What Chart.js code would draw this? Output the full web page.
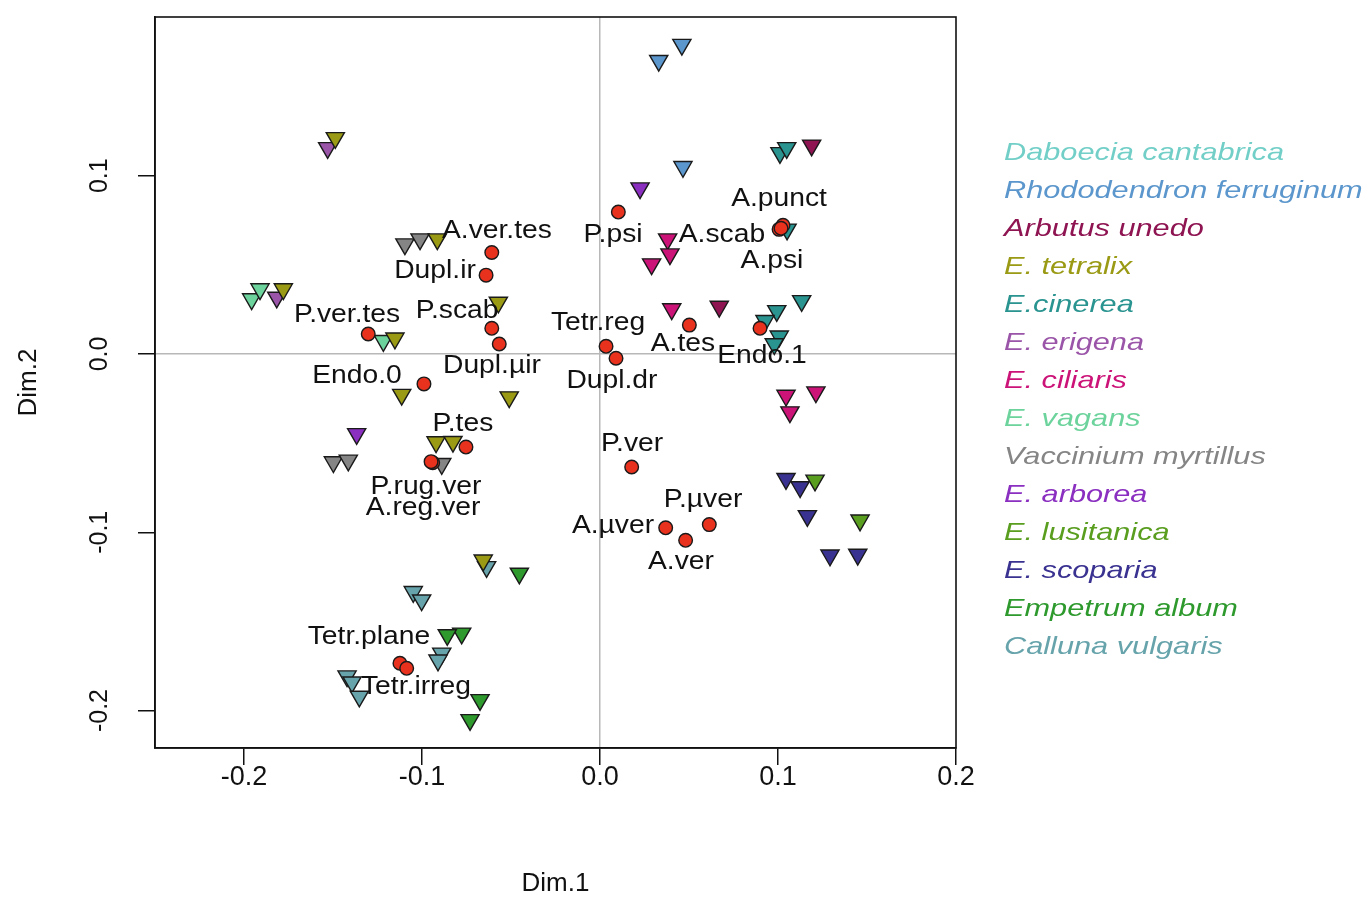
<!DOCTYPE html>
<html>
<head>
<meta charset="utf-8">
<script src="https://cdn.jsdelivr.net/npm/chart.js@4.4.1/dist/chart.umd.min.js"></script>
<style>
html,body{margin:0;padding:0;background:#fff;}
#wrap{width:1368px;height:899px;}
</style>
</head>
<body>
<div id="wrap"><canvas id="c" width="1368" height="899"></canvas></div>
<script>
// ---------- DATA ----------
const xTickValues = [-0.2, -0.1, 0.0, 0.1, 0.2];
const yTickValues = [-0.2, -0.1, 0.0, 0.1];

const speciesNames = ["Daboecia cantabrica","Rhododendron ferruginum","Arbutus unedo","E. tetralix","E.cinerea","E. erigena","E. ciliaris","E. vagans","Vaccinium myrtillus","E. arborea","E. lusitanica","E. scoparia","Empetrum album","Calluna vulgaris"];

const daboeciaX = [];
const daboeciaY = [];
const rhodoX = [0.046, 0.033, 0.0466];
const rhodoY = [0.1735, 0.1645, 0.105];
const arbutusX = [0.1189, 0.067];
const arbutusY = [0.117, 0.0266];
const tetralixX = [-0.1487, -0.0914, -0.1779, -0.1152, -0.1114, -0.0921, -0.0826, -0.0510, -0.0571, -0.0656];
const tetralixY = [0.1212, 0.0644, 0.0364, 0.0088, -0.0228, -0.0494, -0.0492, -0.0242, 0.0289, -0.1157];
const cinereaX = [0.1011, 0.1049, 0.1051, 0.1133, 0.0993, 0.0927, 0.1007, 0.0979];
const cinereaY = [0.1128, 0.1156, 0.0699, 0.0298, 0.0242, 0.0186, 0.0099, 0.0056];
const erigenaX = [-0.153, -0.1816];
const erigenaY = [0.1156, 0.0317];
const ciliarisX = [0.038, 0.0393, 0.029, 0.0403, 0.1045, 0.1213, 0.1067];
const ciliarisY = [0.0644, 0.056, 0.0504, 0.0252, -0.0233, -0.0214, -0.0326];
const vagansX = [-0.1957, -0.191, -0.1217];
const vagansY = [0.0308, 0.0364, 0.0074];
const vacciniumX = [-0.1096, -0.1011, -0.1498, -0.1414, -0.0889];
const vacciniumY = [0.0616, 0.0644, -0.0606, -0.0597, -0.0616];
const arboreaX = [0.0225, -0.1367];
const arboreaY = [0.093, -0.0448];
const lusitanicaX = [0.1208, 0.1461];
const lusitanicaY = [-0.0709, -0.0933];
const scopariaX = [0.1045, 0.1124, 0.1165, 0.1292, 0.1448];
const scopariaY = [-0.07, -0.0746, -0.0908, -0.1129, -0.1125];
const empetrumX = [-0.0453, -0.0777, -0.0858, -0.0674, -0.073];
const empetrumY = [-0.1231, -0.1567, -0.1576, -0.194, -0.2052];
const callunaX = [-0.1049, -0.1002, -0.0889, -0.091, -0.1421, -0.1393, -0.1352, -0.0637];
const callunaY = [-0.1334, -0.1381, -0.1679, -0.1718, -0.1807, -0.1841, -0.1921, -0.1194];

const varNames = ["A.ver.tes","Dupl.ir","P.psi","A.punct","A.scab","A.psi","P.scab","Dupl.\u00b5ir","Tetr.reg","Dupl.dr","A.tes","Endo.1","P.ver.tes","Endo.0","P.tes","P.rug.ver","A.reg.ver","P.ver","P.\u00b5ver","A.\u00b5ver","A.ver","Tetr.plane","Tetr.irreg"];
const varX = [-0.0608, -0.064, 0.0103, 0.1028, 0.1006, 0.1017, -0.0608, -0.0566, 0.0034, 0.009, 0.0502, 0.0899, -0.1302, -0.0989, -0.0753, -0.094, -0.0949, 0.0178, 0.0614, 0.0369, 0.0481, -0.1124, -0.1086];
const varY = [0.0569, 0.0442, 0.0796, 0.0722, 0.0699, 0.0705, 0.0144, 0.0056, 0.0043, -0.0024, 0.0162, 0.0144, 0.0112, -0.0168, -0.0522, -0.061, -0.0604, -0.0634, -0.0957, -0.0975, -0.1045, -0.1735, -0.1763];
// where each variable's text label sits (data units)
const varLabelX = [-0.0579, -0.0927, 0.0073, 0.1006, 0.0685, 0.0966, -0.0803, -0.0607, -0.0011, 0.0067, 0.0466, 0.0910, -0.1421, -0.1365, -0.0770, -0.0978, -0.0994, 0.0180, 0.0579, 0.0073, 0.0455, -0.1298, -0.1034];
const varLabelY = [0.0690, 0.0464, 0.0665, 0.0867, 0.0665, 0.0520, 0.0241, -0.0067, 0.0173, -0.0151, 0.0056, -0.0010, 0.0218, -0.0123, -0.0392, -0.0744, -0.0867, -0.0504, -0.0817, -0.0968, -0.1170, -0.1589, -0.1869];

// ---------- STYLE ----------
const speciesColors = ["#72CFC8","#5B96CC","#8E1452","#9A9A14","#2A9490","#9A55A8","#CC1378","#6CD39C","#858585","#8A2FC0","#5A9E20","#3A3290","#2E9A2E","#66A3AB"];
const speciesX = [daboeciaX, rhodoX, arbutusX, tetralixX, cinereaX, erigenaX, ciliarisX, vagansX, vacciniumX, arboreaX, lusitanicaX, scopariaX, empetrumX, callunaX];
const speciesY = [daboeciaY, rhodoY, arbutusY, tetralixY, cinereaY, erigenaY, ciliarisY, vagansY, vacciniumY, arboreaY, lusitanicaY, scopariaY, empetrumY, callunaY];

const FONT = "'Liberation Sans', Arial, sans-serif";

const datasets = [];
datasets.push({
  label: "variables",
  data: varX.map((x, i) => ({x: x, y: varY[i]})),
  pointStyle: 'circle',
  pointRadius: 6.8,
  pointHoverRadius: 6.8,
  backgroundColor: '#E8321E',
  borderColor: '#1a1a1a',
  borderWidth: 1.4
});
speciesNames.forEach((name, s) => {
  datasets.push({
    label: name,
    data: speciesX[s].map((x, i) => ({x: x, y: speciesY[s][i]})),
    pointStyle: 'triangle',
    rotation: 180,
    pointRotation: 180,
    pointRadius: 10.5,
    pointHoverRadius: 10.5,
    backgroundColor: speciesColors[s],
    borderColor: '#1a1a1a',
    borderWidth: 1.4
  });
});

function stretchedText(ctx, text, x, y, sx, align) {
  ctx.save();
  ctx.translate(x, y);
  ctx.scale(sx, 1);
  ctx.textAlign = align;
  ctx.fillText(text, 0, 0);
  ctx.restore();
}

const decorPlugin = {
  id: 'decor',
  afterDatasetsDraw(chart) {
    const ctx = chart.ctx;
    const xs = chart.scales.x, ys = chart.scales.y;
    const a = chart.chartArea;
    ctx.save();
    // box
    ctx.strokeStyle = '#111';
    ctx.lineWidth = 1.6;
    ctx.strokeRect(a.left, a.top, a.right - a.left, a.bottom - a.top);
    // variable labels
    ctx.fillStyle = '#111';
    ctx.font = "25px " + FONT;
    ctx.textBaseline = 'middle';
    varNames.forEach((t, i) => {
      stretchedText(ctx, t, xs.getPixelForValue(varLabelX[i]), ys.getPixelForValue(varLabelY[i]), 1.13, 'center');
    });
    // y tick labels (rotated, like R's default)
    ctx.font = "25px " + FONT;
    ys.ticks.forEach(tk => {
      const py = ys.getPixelForValue(tk.value);
      ctx.save();
      ctx.translate(a.left - 55, py);
      ctx.rotate(-Math.PI / 2);
      ctx.textAlign = 'center';
      ctx.textBaseline = 'middle';
      ctx.fillText(tk.value.toFixed(1), 0, 0);
      ctx.restore();
    });
    // legend (text only, coloured, italic)
    ctx.font = "italic 24px " + FONT;
    ctx.textBaseline = 'middle';
    speciesNames.forEach((n, i) => {
      ctx.fillStyle = speciesColors[i];
      stretchedText(ctx, n, 1004, 153 + i * 38, 1.28, 'left');
    });
    ctx.restore();
  }
};

new Chart(document.getElementById('c'), {
  type: 'scatter',
  data: { datasets: datasets },
  plugins: [decorPlugin],
  options: {
    responsive: false,
    animation: false,
    events: [],
    layout: { padding: { left: 0, top: 17, right: 412, bottom: 0 } },
    plugins: { legend: { display: false }, tooltip: { enabled: false } },
    scales: {
      x: {
        type: 'linear',
        min: -0.25, max: 0.2,
        afterBuildTicks: s => { s.ticks = xTickValues.map(v => ({value: v})); },
        afterFit: s => { s.height = 151; },
        grid: {
          color: c => (c.tick && c.tick.value === 0) ? '#b8b8b8' : 'rgba(0,0,0,0)',
          lineWidth: 1.5,
          tickColor: '#111',
          tickLength: 17,
          drawTicks: true
        },
        border: { display: true, color: '#111', width: 1.6 },
        ticks: {
          color: '#111',
          font: { family: FONT, size: 27 },
          padding: -4,
          maxRotation: 0,
          callback: v => Number(v).toFixed(1)
        },
        title: { display: true, text: 'Dim.1', color: '#111', font: { family: FONT, size: 26 }, padding: { top: 0, bottom: 0 } }
      },
      y: {
        type: 'linear',
        min: -0.221, max: 0.189,
        afterBuildTicks: s => { s.ticks = yTickValues.map(v => ({value: v})); },
        afterFit: s => { s.width = 155; },
        grid: {
          color: c => (c.tick && c.tick.value === 0) ? '#b8b8b8' : 'rgba(0,0,0,0)',
          lineWidth: 1.5,
          tickColor: '#111',
          tickLength: 17,
          drawTicks: true
        },
        border: { display: true, color: '#111', width: 1.6 },
        ticks: { display: false },
        title: { display: true, text: 'Dim.2', color: '#111', font: { family: FONT, size: 26 }, padding: { top: 13, bottom: 0 } }
      }
    }
  }
});
</script>
</body>
</html>
